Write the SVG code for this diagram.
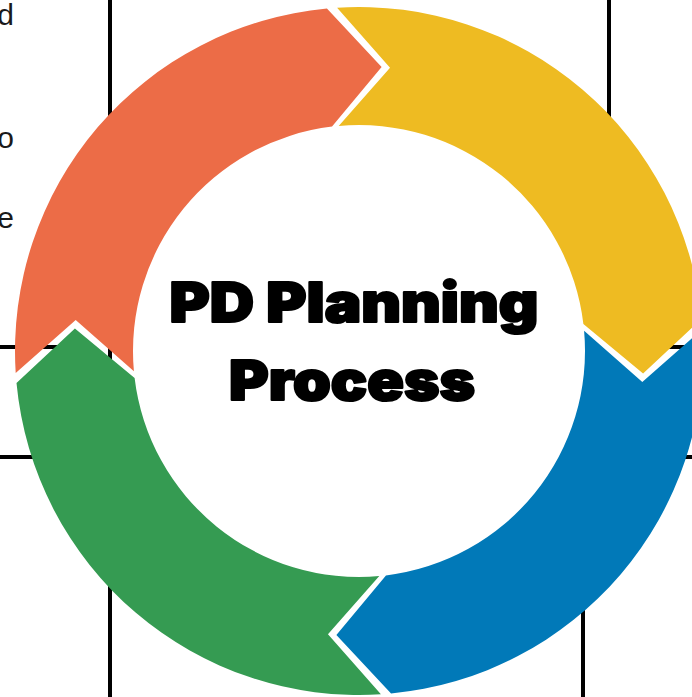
<svg xmlns="http://www.w3.org/2000/svg" width="692" height="697" viewBox="0 0 692 697">
  <style>
    .rule { stroke: #000; stroke-width: 4; fill: none; }
    .side { font-family: "Liberation Sans", Arial, sans-serif; font-size: 30px; fill: #1a1a1a; }
    .title { font-family: Inter, "Liberation Sans", Arial, sans-serif; font-weight: 900; font-size: 55px; fill: #000; stroke: #000; stroke-width: 2.2; stroke-linejoin: round; }
  </style>
  <rect width="692" height="697" fill="#fff"/>
  <g id="table">
    <line class="rule" x1="110" y1="0" x2="110" y2="697"/>
    <line class="rule" x1="609" y1="0" x2="609" y2="200"/>
    <line class="rule" x1="583" y1="520" x2="583" y2="697"/>
    <line class="rule" x1="0" y1="347" x2="60" y2="347"/>
    <line class="rule" x1="660" y1="347" x2="692" y2="347"/>
    <line class="rule" x1="0" y1="457" x2="60" y2="457"/>
    <line class="rule" x1="660" y1="457" x2="692" y2="457"/>
    <text class="side" x="14" y="25" text-anchor="end">d</text>
    <text class="side" x="14" y="148" text-anchor="end">o</text>
    <text class="side" x="14" y="228" text-anchor="end">e</text>
  </g>
  <g id="orange">
    <path fill="#EC6C47" d="M15.70,372.90 A344,344 0 0 1 326.93,8.50 L381.61,66.90 L332.04,126.61 A226,226 0 0 0 133.91,371.29 L75.69,319.97 Z"/>
  </g>
  <g id="yellow">
    <path fill="#EEBB22" d="M337.10,7.70 A344,344 0 0 1 701.50,318.93 L643.10,373.61 L583.39,324.04 A226,226 0 0 0 338.71,125.91 L390.03,67.69 Z"/>
  </g>
  <g id="blue">
    <path fill="#0179B8" d="M702.30,329.10 A344,344 0 0 1 391.07,693.50 L336.39,635.10 L385.96,575.39 A226,226 0 0 0 584.09,330.71 L642.31,382.03 Z"/>
  </g>
  <g id="green">
    <path fill="#359B52" d="M380.90,694.30 A344,344 0 0 1 16.50,383.07 L74.90,328.39 L134.61,377.96 A226,226 0 0 0 379.29,576.09 L327.97,634.31 Z"/>
  </g>
  <g id="center">
    <text class="title" x="354" y="322" text-anchor="middle" textLength="369" lengthAdjust="spacingAndGlyphs">PD Planning</text>
    <text class="title" x="352" y="400" text-anchor="middle" textLength="246" lengthAdjust="spacingAndGlyphs">Process</text>
  </g>
  <g id="connectors"/>
</svg>
